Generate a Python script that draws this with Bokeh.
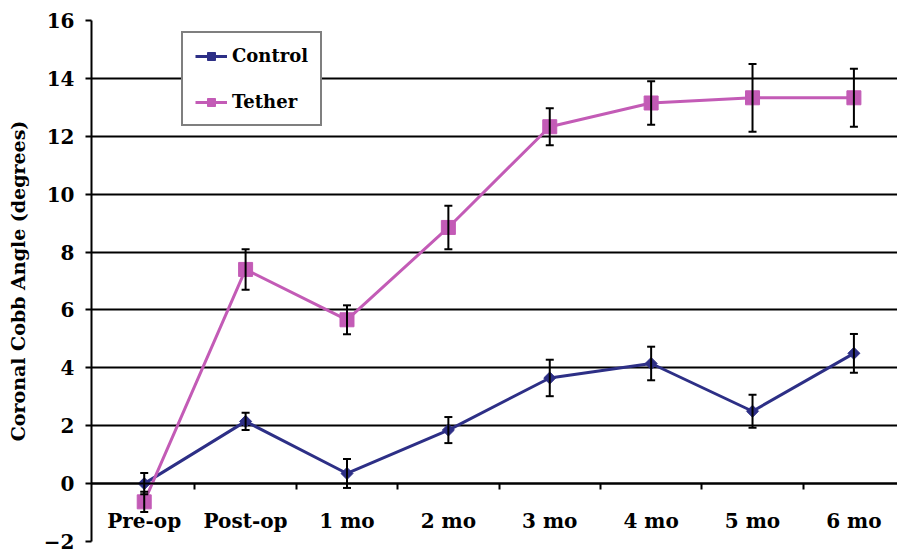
import numpy as np
from bokeh.plotting import figure
from bokeh.models import (Range1d, LinearAxis, FixedTicker, ColumnDataSource,
                          Whisker, TeeHead, Legend)
from bokeh.embed import file_html
from bokeh.resources import INLINE

categories = ["Pre-op", "Post-op", "1 mo", "2 mo", "3 mo", "4 mo", "5 mo", "6 mo"]
control_mean = [0.0, 2.15, 0.35, 1.85, 3.65, 4.15, 2.5, 4.5]
control_err = [0.37, 0.3, 0.5, 0.45, 0.63, 0.58, 0.57, 0.67]
tether_mean = [-0.63, 7.4, 5.66, 8.85, 12.33, 13.15, 13.33, 13.33]
tether_err = [0.35, 0.7, 0.5, 0.75, 0.64, 0.75, 1.17, 1.0]
y_ticks = [-2, 0, 2, 4, 6, 8, 10, 12, 14, 16]

CONTROL_COLOR = "#2D2F86"
TETHER_COLOR = "#C35BB6"
FONT = "DejaVu Serif"

x = list(range(len(categories)))

p = figure(width=897, height=551, x_range=Range1d(-0.52, 7.43), y_range=Range1d(-2, 16),
           x_axis_location=None, toolbar_location=None, output_backend="svg",
           min_border_left=91, min_border_top=20, min_border_bottom=10, min_border_right=0)
p.outline_line_color = None
p.background_fill_color = "white"
p.border_fill_color = "white"

# y axis
yt = FixedTicker(ticks=y_ticks)
yax = p.yaxis[0]
yax.ticker = yt
yax.axis_label = "Coronal Cobb Angle (degrees)"
yax.axis_label_text_font = FONT
yax.axis_label_text_font_style = "bold"
yax.axis_label_text_font_size = "19px"
yax.axis_label_text_color = "black"
yax.axis_label_standoff = 12
yax.major_label_text_font = FONT
yax.major_label_text_font_style = "bold"
yax.major_label_text_font_size = "20px"
yax.major_label_text_color = "black"
yax.major_label_standoff = 11
yax.axis_line_width = 2
yax.axis_line_color = "black"
yax.major_tick_out = 6
yax.major_tick_in = 0
yax.major_tick_line_width = 2
yax.minor_tick_line_color = None

for g in p.ygrid:
    g.ticker = yt
    g.grid_line_color = "black"
    g.grid_line_width = 2
for g in p.xgrid:
    g.visible = False

# x axis at y = 0
xt = FixedTicker(ticks=x, minor_ticks=[i + 0.5 for i in x[:-1]])
xax = LinearAxis(ticker=xt, fixed_location=0)
xax.major_label_overrides = {i: c for i, c in zip(x, categories)}
xax.major_label_text_font = FONT
xax.major_label_text_font_style = "bold"
xax.major_label_text_font_size = "20px"
xax.major_label_text_color = "black"
xax.major_label_standoff = 19
xax.major_tick_out = 0
xax.major_tick_in = 0
xax.minor_tick_out = 6
xax.minor_tick_in = 0
xax.minor_tick_line_width = 2
xax.minor_tick_line_color = "black"
xax.axis_line_width = 2
xax.axis_line_color = "black"
p.add_layout(xax, "below")

# error bars
for mean, err in ((control_mean, control_err), (tether_mean, tether_err)):
    src = ColumnDataSource(dict(x=x,
                                lower=[m - e for m, e in zip(mean, err)],
                                upper=[m + e for m, e in zip(mean, err)]))
    w = Whisker(source=src, base="x", lower="lower", upper="upper",
                line_color="black", line_width=2, level="glyph",
                upper_head=TeeHead(size=8, line_width=2, line_color="black"),
                lower_head=TeeHead(size=8, line_width=2, line_color="black"))
    p.add_layout(w)

# series
r1 = p.line(x, control_mean, line_color=CONTROL_COLOR, line_width=3)
r2 = p.scatter(x, control_mean, marker="square", angle=np.pi / 4, size=8.5,
               fill_color=CONTROL_COLOR, line_color=CONTROL_COLOR)
r3 = p.line(x, tether_mean, line_color=TETHER_COLOR, line_width=3)
r4 = p.scatter(x, tether_mean, marker="square", size=14,
               fill_color=TETHER_COLOR, line_color=TETHER_COLOR)

legend = Legend(items=[("Control", [r1, r2]), ("Tether", [r3, r4])],
                location=(90, 415))
legend.label_text_font = FONT
legend.label_text_font_style = "bold"
legend.label_text_font_size = "18px"
legend.label_text_color = "black"
legend.border_line_color = "black"
legend.border_line_width = 2
legend.background_fill_color = "white"
legend.background_fill_alpha = 1
legend.padding = 12
legend.spacing = 25
legend.margin = 0
legend.glyph_width = 32
legend.glyph_height = 20
legend.label_standoff = 5
p.add_layout(legend, "center")

open("out.html", "w").write(file_html(p, INLINE))
